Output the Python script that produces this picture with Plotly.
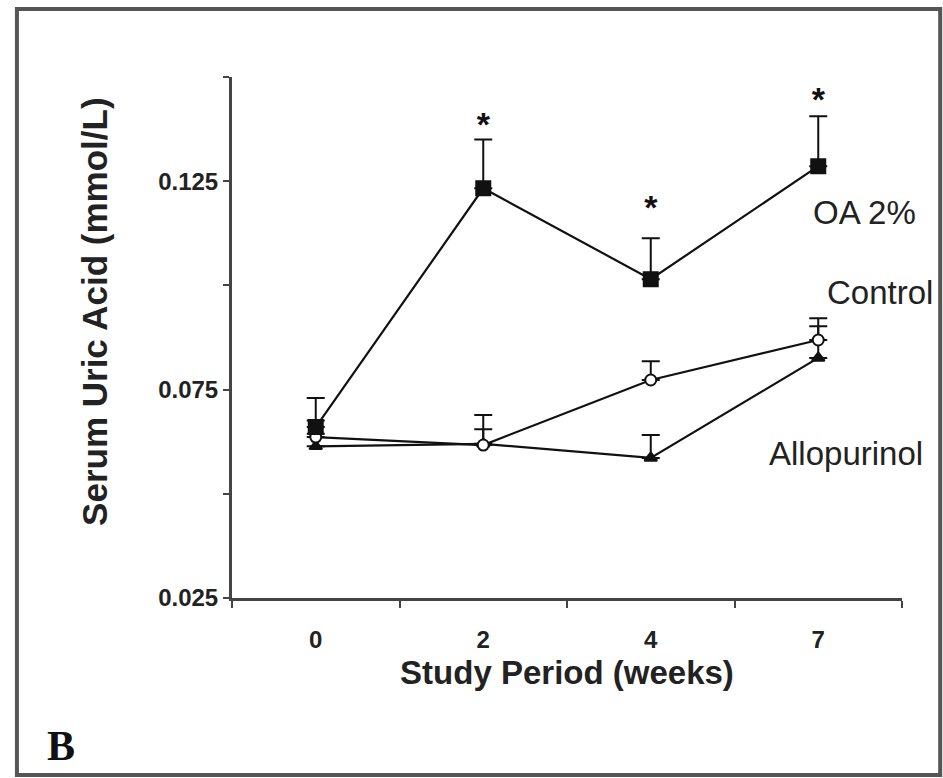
import plotly.graph_objects as go

weeks = ["0", "2", "4", "7"]
oa_mean = [0.0660, 0.1233, 0.1015, 0.1286]
oa_err = [0.0070, 0.0117, 0.0098, 0.0120]
ctrl_mean = [0.0636, 0.0617, 0.0773, 0.0869]
ctrl_err = [0.0040, 0.0072, 0.0045, 0.0052]
allo_mean = [0.0614, 0.0620, 0.0586, 0.0826]
allo_err = [0.0030, 0.0035, 0.0055, 0.0076]
sig_weeks = ["2", "4", "7"]
sig_y = [0.1380, 0.1180, 0.1440]
ytick_vals = [0.025, 0.05, 0.075, 0.1, 0.125, 0.15]
ytick_text = ["0.025", "", "0.075", "", "0.125", ""]

INK = "#111111"
AX = "#444444"

def series(y, err, symbol, size, fill, name):
    return go.Scatter(
        x=weeks, y=y, mode="lines+markers", name=name,
        line=dict(color=INK, width=2.2),
        marker=dict(symbol=symbol, size=size, color=fill,
                    line=dict(color=INK, width=2)),
        error_y=dict(type="data", array=err, arrayminus=[0] * len(err),
                     symmetric=False, color=INK, thickness=2, width=9),
        showlegend=False,
    )

fig = go.Figure()
fig.add_trace(series(allo_mean, allo_err, "triangle-up", 11, INK, "Allopurinol"))
fig.add_trace(series(ctrl_mean, ctrl_err, "circle", 11, "white", "Control"))
fig.add_trace(series(oa_mean, oa_err, "square", 14, INK, "OA 2%"))

fig.add_trace(go.Scatter(
    x=sig_weeks, y=sig_y, mode="text", text=["<b>*</b>"] * len(sig_weeks),
    textfont=dict(family="Liberation Sans", size=34, color=INK),
    showlegend=False, hoverinfo="skip"))

label_font = dict(family="Liberation Sans, Arial", size=33, color="#222222")
for txt, xv, yv in [("OA 2%", 3.279, 0.1174), ("Control", 3.369, 0.0983), ("Allopurinol", 3.166, 0.0596)]:
    fig.add_annotation(x=xv, y=yv, xref="x", yref="y", text=txt,
                       showarrow=False, font=label_font)

fig.add_annotation(x=-0.2045, y=0.551, xref="paper", yref="paper",
                   text="<b>Serum Uric Acid (mmol/L)</b>", textangle=-90,
                   showarrow=False, xanchor="center", yanchor="middle",
                   font=dict(family="Liberation Sans, Arial", size=35, color="#222222"))

fig.add_annotation(x=-0.255, y=-0.284, xref="paper", yref="paper", text="<b>B</b>",
                   showarrow=False, xanchor="center", yanchor="middle",
                   font=dict(family="Liberation Serif, Times New Roman", size=42, color=INK))

fig.add_shape(type="rect", xref="paper", yref="paper",
              x0=-0.321, x1=1.057, y0=-0.3397, y1=1.1305,
              line=dict(color="#555555", width=4), fillcolor="rgba(0,0,0,0)")

fig.update_xaxes(
    type="category", range=[-0.5, 3.5], tickson="boundaries",
    showline=True, linecolor=AX, linewidth=3, showgrid=False, zeroline=False,
    ticks="outside", ticklen=7, tickwidth=2, tickcolor=AX,
    tickfont=dict(family="Liberation Sans, Arial", size=24, color="#222222", weight="bold"),
    ticklabelstandoff=18,
    title=dict(text="<b>Study Period (weeks)</b>", standoff=10,
               font=dict(family="Liberation Sans, Arial", size=33, color="#222222")),
)
fig.update_yaxes(
    range=[0.025, 0.15], tickvals=ytick_vals, ticktext=ytick_text,
    showline=True, linecolor=AX, linewidth=3, showgrid=False, zeroline=False,
    ticks="outside", ticklen=6, tickwidth=2, tickcolor=AX,
    tickfont=dict(family="Liberation Sans, Arial", size=24, color="#222222", weight="bold"),
)

fig.update_layout(
    width=943, height=778,
    margin=dict(l=232, r=41, t=77, b=180),
    paper_bgcolor="white", plot_bgcolor="white",
)

fig.write_html("out.html")
